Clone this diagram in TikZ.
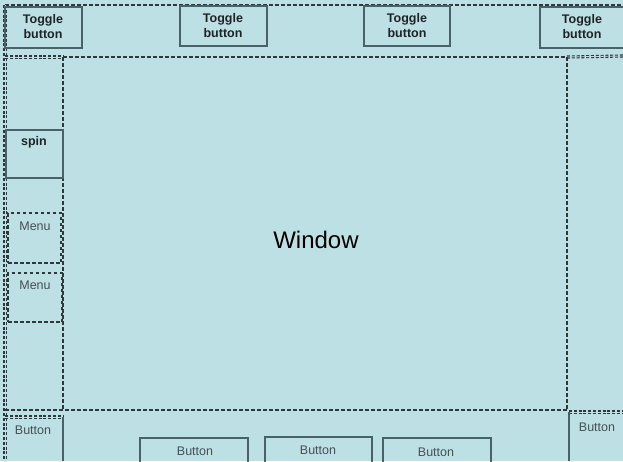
\documentclass[tikz,border=0pt]{standalone}
\usepackage{fontspec}
\setmainfont{Liberation Sans}
\definecolor{bg}{RGB}{189,224,228}
\definecolor{edge}{RGB}{72,98,104}
\definecolor{dashc}{RGB}{45,55,60}
\definecolor{txtb}{RGB}{30,35,38}
\definecolor{txtn}{RGB}{70,80,85}
\begin{document}
\begin{tikzpicture}[x=1pt,y=-1pt,
  solidbox/.style={draw=edge, line width=1.2pt, inner sep=0pt, outer sep=0pt, anchor=north west},
  menubox/.style={draw=dashc, line width=1.2pt, dash pattern=on 3.5pt off 2.5pt, inner sep=0pt, outer sep=0pt, anchor=north west},
  tgl/.style={font=\bfseries\fontsize{12.5}{15}\selectfont, align=center, text=txtb, inner sep=0pt},
  lbl/.style={font=\fontsize{12.5}{15}\selectfont, text=txtn, inner sep=0pt},
  dline/.style={draw=dashc, line width=1.3pt, dash pattern=on 3.5pt off 2.5pt},
  dense/.style={draw=dashc, line width=1.1pt, double=bg, double distance=0.9pt, dash pattern=on 3pt off 1.8pt},
  sline/.style={draw=edge, line width=1.2pt}]
\useasboundingbox (0,0) rectangle (623,461);
\clip (0,0) rectangle (623,461);
\fill[bg] (0,0) rectangle (623,461);

% separators
\coordinate (tl) at (5,5);
\coordinate (tr) at (623,5);
\coordinate (bl) at (5,461);
\coordinate (h1l) at (63,57);
\coordinate (h1r) at (567,57);
\coordinate (h1e) at (623,56);
\coordinate (p1) at (5,57);
\coordinate (h2l) at (5,410);
\coordinate (h2r) at (567,410);
\coordinate (lv1) at (63,57);
\coordinate (lv2) at (63,410);
\coordinate (rv1) at (567,57);
\coordinate (rv2) at (567,410);

\draw[dline] (tl) -- (tr);
\draw[dense] (tl) -- (bl);
\draw[dline] (h1l) -- (h1r);
\draw[dense] (p1) -- (h1l);
\draw[dense] (h1r) -- (h1e);
\draw[dline] (lv1) -- (lv2);
\draw[dline] (rv1) -- (rv2);
\draw[dline] (h2l) -- (h2r);

% top toggle buttons
\node[solidbox, minimum width=77pt, minimum height=41pt] (tb1) at (5,7) {};
\node[solidbox, minimum width=87pt, minimum height=40pt] (tb2) at (180,6) {};
\node[solidbox, minimum width=86pt, minimum height=40pt] (tb3) at (364,6) {};
\node[solidbox, minimum width=100pt, minimum height=41pt] (tb4) at (540,7) {};
\node[tgl] (tt1) at (43,27) {Toggle\\button};
\node[tgl] (tt2) at (223,26) {Toggle\\button};
\node[tgl] (tt3) at (407,26) {Toggle\\button};
\node[tgl] (tt4) at (582,27) {Toggle\\button};

% left panel
\node[solidbox, minimum width=57pt, minimum height=48pt] (spin) at (6,130) {};
\node[tgl] (spint) at (34,142) {spin};
\node[menubox, minimum width=53pt, minimum height=50pt] (m1) at (8,213) {};
\node[lbl] (m1t) at (35,226) {Menu};
\node[menubox, minimum width=54pt, minimum height=49pt] (m2) at (8,273) {};
\node[lbl] (m2t) at (35,285) {Menu};

% window
\node[font=\fontsize{24}{28}\selectfont, text=black, inner sep=0pt] (win) at (316,240) {Window};

% bottom buttons
\coordinate (lb1) at (5,417);
\coordinate (lb2) at (63,417);
\coordinate (lb3) at (63,461);
\draw[dense] (lb1) -- (lb2);
\draw[sline] (lb2) -- (lb3);
\node[lbl] (lbt) at (33,430) {Button};

\node[solidbox, minimum width=108pt, minimum height=40pt] (b2) at (140,438) {};
\node[lbl] (b2t) at (195,451) {Button};
\node[solidbox, minimum width=107pt, minimum height=40pt] (b3) at (265,437) {};
\node[lbl] (b3t) at (318,450) {Button};
\node[solidbox, minimum width=108pt, minimum height=40pt] (b4) at (383,438) {};
\node[lbl] (b4t) at (436,452) {Button};

\coordinate (rb1) at (569,412);
\coordinate (rb2) at (623,412);
\coordinate (rb3) at (569,461);
\draw[dense] (rb1) -- (rb2);
\draw[sline] (rb1) -- (rb3);
\node[lbl] (rbt) at (597,427) {Button};
\end{tikzpicture}
\end{document}
